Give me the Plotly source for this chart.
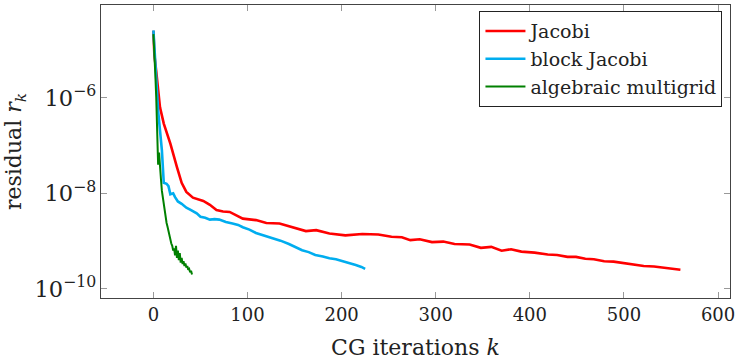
import numpy as np
import plotly.graph_objects as go

# ---- data ----
jacobi_k = [0, 1, 3, 4, 7, 11, 16, 18, 25, 26, 30, 35, 42, 53, 60, 67, 74, 81, 95, 109, 120,
            134, 148, 162, 173, 187, 204, 222, 239, 253, 264, 273, 283, 296, 308, 320,
            336, 348, 359, 370, 380, 391, 405, 419, 429, 440, 449, 459, 468, 479, 489,
            500, 510, 521, 532, 542, 552, 560]
jacobi_log10 = [-4.60, -5.10, -5.45, -5.65, -6.20, -6.54, -6.83, -6.96, -7.45, -7.52, -7.78, -7.97,
                -8.09, -8.16, -8.24, -8.35, -8.38, -8.39, -8.53, -8.56, -8.62,
                -8.63, -8.71, -8.79, -8.77, -8.84, -8.88, -8.85, -8.86, -8.91, -8.92, -8.98,
                -8.96, -9.02, -9.01, -9.06, -9.07, -9.14, -9.12, -9.20, -9.17, -9.22,
                -9.24, -9.28, -9.29, -9.33, -9.33, -9.37, -9.38, -9.42, -9.43,
                -9.46, -9.48, -9.52, -9.53, -9.56, -9.58, -9.60]

block_k = [0, 2, 5, 9, 11, 14, 16, 18, 21, 23, 26, 30, 35, 40, 46, 50, 55, 60, 65, 70, 77, 84,
           90, 95, 102, 109, 118, 127, 135, 144, 151, 158, 165, 172, 180, 187, 194, 200,
           208, 215, 221, 225]
block_log10 = [-4.59, -5.37, -6.27, -7.10, -7.78, -7.80, -7.85, -8.02, -8.00, -8.08, -8.17, -8.22,
               -8.30, -8.35, -8.42, -8.49, -8.51, -8.55, -8.54, -8.55, -8.60, -8.63,
               -8.66, -8.71, -8.76, -8.83, -8.88, -8.94, -8.99, -9.06, -9.12, -9.19, -9.23,
               -9.29, -9.32, -9.36, -9.38, -9.41, -9.45, -9.50, -9.54, -9.58]

amg_k = list(range(0, 42))
amg_log10 = [-4.67, -5.00, -5.50, -6.00, -6.60, -7.40, -7.15, -7.60, -7.70, -7.95,
             -8.10, -8.28, -8.35, -8.50, -8.62, -8.70, -8.80, -8.90, -8.98, -9.05,
             -9.10, -9.20, -9.15, -9.30, -9.10, -9.35, -9.20, -9.40, -9.25, -9.45,
             -9.35, -9.48, -9.42, -9.52, -9.47, -9.55, -9.52, -9.60, -9.58, -9.65,
             -9.62, -9.70]

names = ["Jacobi", "block Jacobi", "algebraic multigrid"]
colors = ["#ff0000", "#00adef", "#008000"]
widths = [2.6, 2.6, 2.0]

FONT = "DejaVu Serif"

fig = go.Figure()
for k, lg, name, c, w in zip([jacobi_k, block_k, amg_k],
                             [jacobi_log10, block_log10, amg_log10],
                             names, colors, widths):
    fig.add_trace(go.Scatter(x=k, y=10 ** np.array(lg), mode="lines", name=name,
                             line=dict(color=c, width=w)))

fig.update_layout(
    width=739, height=360,
    margin=dict(l=101, r=5, t=4, b=61),
    paper_bgcolor="white", plot_bgcolor="white",
    font=dict(family=FONT, size=18, color="#222"),
    showlegend=True,
    legend=dict(x=0.988, y=0.979, xanchor="right", yanchor="top",
                bgcolor="white", bordercolor="#222", borderwidth=1,
                font=dict(family=FONT, size=19), tracegroupgap=0,
                itemwidth=40),
)
fig.update_xaxes(range=[-55.7, 612.7], tickvals=[0, 100, 200, 300, 400, 500, 600],
                 ticks="inside", ticklen=6, tickcolor="#999", mirror="allticks",
                 showline=True, linecolor="#444", linewidth=1.2, showgrid=False,
                 zeroline=False, ticklabeloverflow="allow",
                 title=dict(text="CG iterations <i>k</i>", standoff=16))
fig.update_yaxes(type="log", range=[-10.19, -4.06], dtick=2, exponentformat="power",
                 ticks="inside", ticklen=6, tickcolor="#999", mirror="allticks",
                 showline=True, linecolor="#444", linewidth=1.2, showgrid=False,
                 zeroline=False,
                 title=dict(text="residual <i>r<sub>k</sub></i>", standoff=6))

fig.write_html("out.html")
